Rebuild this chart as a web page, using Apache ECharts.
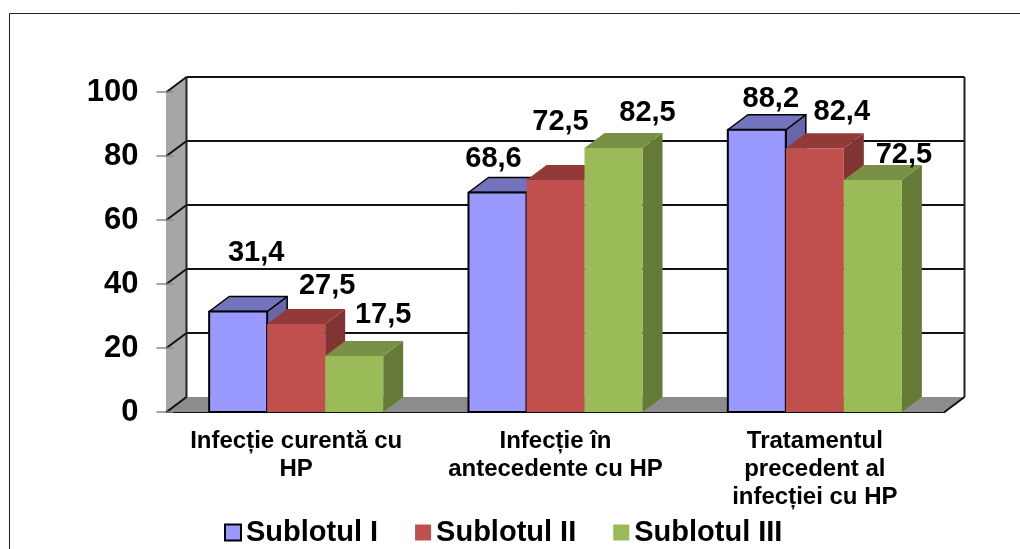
<!DOCTYPE html>
<html>
<head>
<meta charset="utf-8">
<style>
html, body { margin: 0; padding: 0; background: #fff; }
#chart { width: 1020px; height: 549px; }
</style>
<script src="https://cdn.jsdelivr.net/npm/echarts@6/dist/echarts.min.js"></script>
</head>
<body>
<div id="chart"></div>
<script>
var categories = ['Infecție curentă cu\nHP', 'Infecție în\nantecedente cu HP', 'Tratamentul\nprecedent al\ninfecției cu HP'];
var seriesNames = ['Sublotul I', 'Sublotul II', 'Sublotul III'];
var sublot1 = [31.4, 68.6, 88.2];
var sublot2 = [27.5, 72.5, 82.4];
var sublot3 = [17.5, 82.5, 72.5];
var yTicks = [20, 40, 60, 80, 100];

// culori: fata, capac, lateral
var faceColors = ['#9999FF', '#C0504D', '#9BBB59'];
var topColors = ['#7474BE', '#923A38', '#7A9145'];
var sideColors = ['#6666A8', '#803532', '#667A38'];

// etichetele sunt mutate manual in original, fata de mijlocul barei
var labelShift1 = [[18, -59], [-4, -33], [14, -31]];
var labelShift2 = [[31, -38], [5, -58], [27, -36]];
var labelShift3 = [[29, -41], [34, -35], [31, -25]];

var FONT = '"Liberation Sans", Arial, sans-serif';
var DX = 20, DY = -15;      // adancimea 3D
var BAR_FRAC = 0.2237;      // latimea barei din latimea categoriei

function poly(points, fill, stroke, lw) {
    return {
        type: 'polygon',
        shape: { points: points },
        style: { fill: fill, stroke: stroke || null, lineWidth: lw || 0, lineJoin: 'round' }
    };
}

function line(x1, y1, x2, y2, color, lw) {
    return {
        type: 'line',
        shape: { x1: x1, y1: y1, x2: x2, y2: y2 },
        style: { stroke: color, lineWidth: lw }
    };
}

function renderWalls(params, api) {
    var left = api.coord([0, 0])[0] - api.size([1, 0])[0] / 2;
    var right = left + api.size([1, 0])[0] * categories.length;
    var y0 = api.coord([0, 0])[1];
    var yTop = api.coord([0, 100])[1];
    var kids = [];
    kids.push(poly([[left, yTop], [left + DX, yTop + DY], [left + DX, y0 + DY], [left, y0]], '#A6A6A6'));
    kids.push(poly([[left, y0], [left + DX, y0 + DY], [right + DX, y0 + DY], [right, y0]], '#8C8C8C'));
    yTicks.forEach(function (t) {
        var y = api.coord([0, t])[1];
        kids.push(line(left, y, left + DX, y + DY, '#111', 2));
        kids.push(line(left + DX, y + DY, right + DX, y + DY, '#111', 2));
        kids.push(line(left, y, left + 7, y, '#888', 1.5));
    });
    kids.push(line(left, y0, left + DX, y0 + DY, '#111', 2));
    kids.push(line(left, y0, left + 7, y0, '#888', 1.5));
    kids.push(line(left + DX, yTop + DY, left + DX, y0 + DY, '#222', 2));
    kids.push(line(right + DX, yTop + DY, right + DX, y0 + DY, '#222', 2));
    kids.push(line(right, y0, right + DX, y0 + DY, '#111', 2));
    return { type: 'group', children: kids };
}

function makeBarRender(idx, shifts) {
    return function (params, api) {
        var cat = api.value(0), val = api.value(1);
        var band = api.size([1, 0])[0];
        var w = band * BAR_FRAC;
        var c = api.coord([cat, val]);
        var y0 = api.coord([cat, 0])[1];
        var x1 = c[0] - 1.5 * w + idx * w, x2 = x1 + w, y1 = c[1];
        var outline = idx === 0 ? '#000' : null;
        var s = shifts[params.dataIndex];
        return {
            type: 'group',
            children: [
                poly([[x2, y1], [x2 + DX, y1 + DY], [x2 + DX, y0 + DY], [x2, y0]], sideColors[idx], outline, 1.5),
                poly([[x1, y1], [x1 + DX, y1 + DY], [x2 + DX, y1 + DY], [x2, y1]], topColors[idx], outline, 1.5),
                poly([[x1, y1], [x2, y1], [x2, y0], [x1, y0]], faceColors[idx], outline, 2),
                {
                    type: 'text',
                    z2: 100,
                    x: x1 + w / 2 + s[0],
                    y: y1 + s[1],
                    style: {
                        text: val.toFixed(1).replace('.', ','),
                        fill: '#000',
                        font: 'bold 29px ' + FONT,
                        align: 'center',
                        verticalAlign: 'middle'
                    }
                }
            ]
        };
    };
}

function barSeries(idx, values, shifts) {
    return {
        type: 'custom',
        name: seriesNames[idx],
        coordinateSystem: 'cartesian2d',
        clip: false,
        itemStyle: { color: faceColors[idx] },
        encode: { x: 0, y: 1 },
        data: values.map(function (v, i) { return [i, v]; }),
        renderItem: makeBarRender(idx, shifts)
    };
}

var chart = echarts.init(document.getElementById('chart'), null, { renderer: 'canvas' });
var option = {
    animation: false,
    backgroundColor: '#fff',
    textStyle: { fontFamily: FONT },
    graphic: [{
        type: 'rect',
        silent: true,
        shape: { x: 9.5, y: 13.5, width: 1030, height: 560 },
        style: { fill: null, stroke: '#222', lineWidth: 1 }
    }],
    legend: {
        left: 219,
        top: 513,
        itemWidth: 16,
        itemHeight: 16,
        itemGap: 37,
        icon: 'rect',
        textStyle: { fontSize: 29, fontWeight: 'bold', color: '#000', fontFamily: FONT },
        data: [
            { name: seriesNames[0], itemStyle: { borderColor: '#000', borderWidth: 2 } },
            { name: seriesNames[1] },
            { name: seriesNames[2] }
        ]
    },
    grid: { left: 166.5, top: 92, width: 778, height: 320 },
    xAxis: {
        type: 'category',
        data: categories,
        axisLine: { lineStyle: { color: '#111', width: 2 } },
        axisTick: { length: 5, lineStyle: { color: '#333', width: 1 } },
        axisLabel: {
            interval: 0,
            margin: 15,
            fontSize: 24,
            fontWeight: 'bold',
            color: '#000',
            lineHeight: 28,
            fontFamily: FONT
        }
    },
    yAxis: {
        type: 'value',
        min: 0,
        max: 100,
        interval: 20,
        splitLine: { show: false },
        axisLine: { show: true, lineStyle: { color: '#888', width: 1.5 } },
        axisTick: { show: true, length: 10, lineStyle: { color: '#888', width: 1.5 } },
        axisLabel: { margin: 28, fontSize: 31, fontWeight: 'bold', color: '#000', fontFamily: FONT }
    },
    series: [
        {
            type: 'custom',
            name: 'pereti',
            coordinateSystem: 'cartesian2d',
            clip: false,
            silent: true,
            z: 1,
            encode: { x: 0, y: 1 },
            data: [[0, 0]],
            renderItem: renderWalls
        },
        barSeries(0, sublot1, labelShift1),
        barSeries(1, sublot2, labelShift2),
        barSeries(2, sublot3, labelShift3)
    ]
};
chart.setOption(option);
</script>
</body>
</html>
